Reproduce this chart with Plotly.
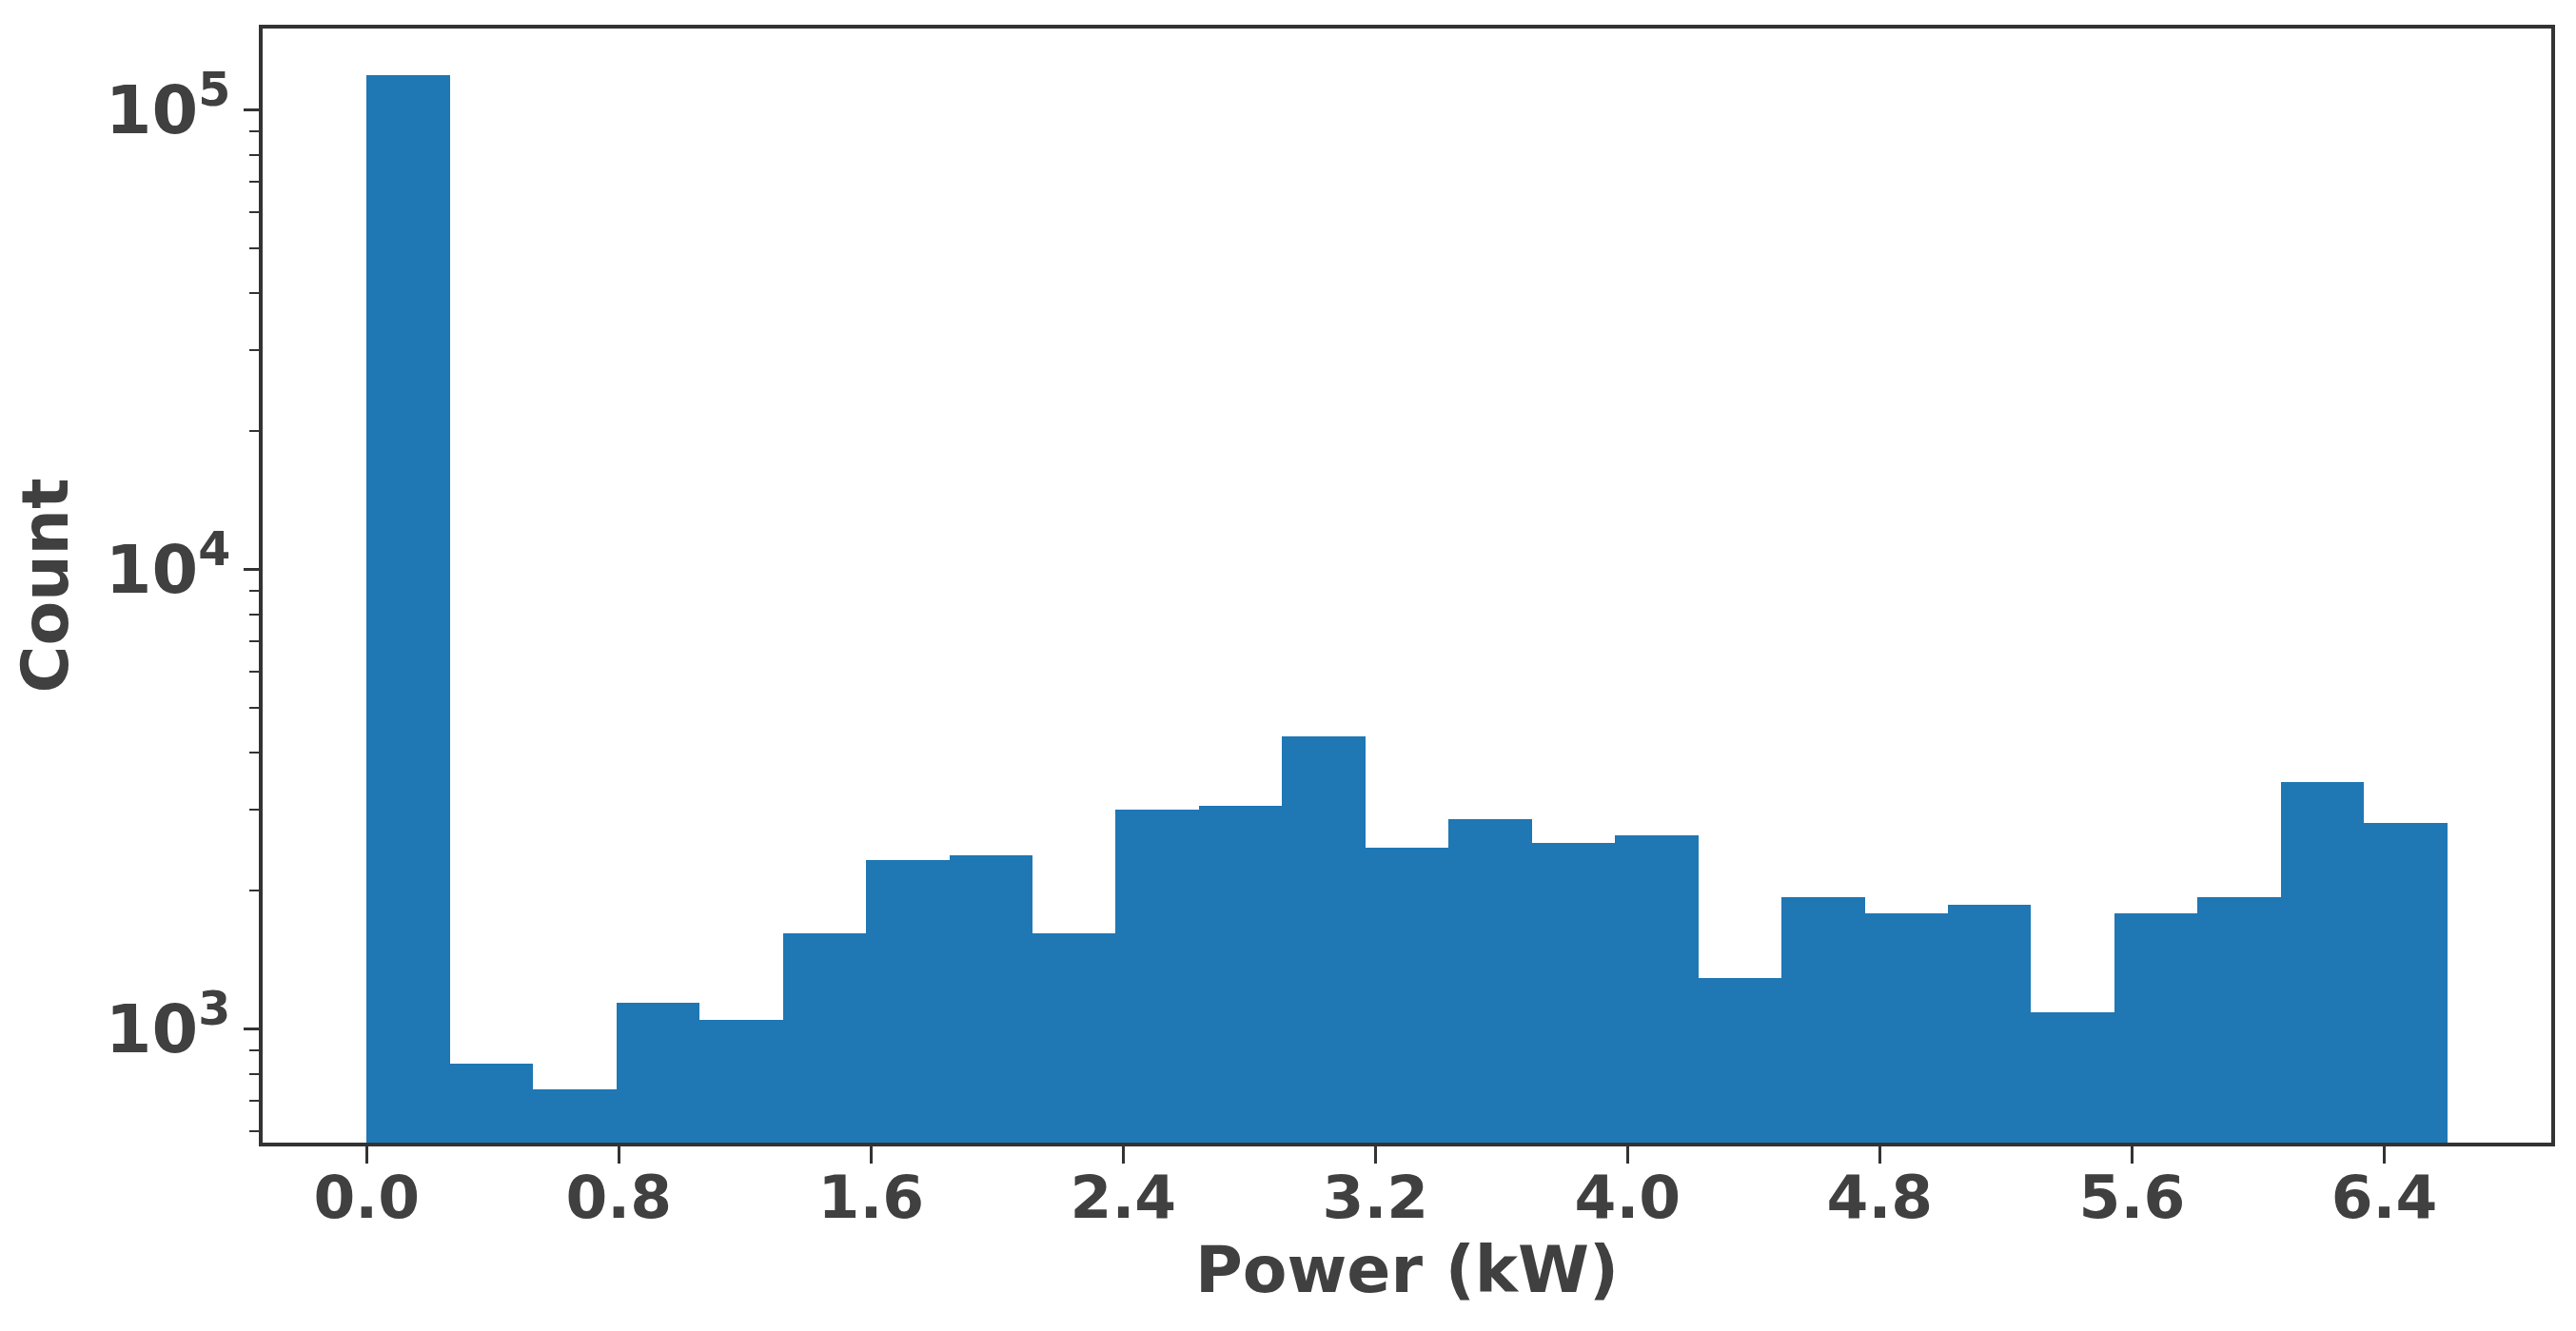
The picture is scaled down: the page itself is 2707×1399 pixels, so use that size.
import numpy as np
import plotly.graph_objects as go

# histogram of power readings, 25 equal bins from 0 to 6.6 kW
power_min = 0.0
power_max = 6.6
n_bins = 25
counts = [119000, 840, 740, 1140, 1050, 1620, 2340, 2390, 1620, 3000,
          3060, 4340, 2490, 2870, 2540, 2640, 1290, 1940, 1790, 1870,
          1090, 1790, 1940, 3460, 2810]

x_ticks = [0.0, 0.8, 1.6, 2.4, 3.2, 4.0, 4.8, 5.6, 6.4]
y_ticks = [1e3, 1e4, 1e5]
y_tick_text = ["10<sup>3</sup>", "10<sup>4</sup>", "10<sup>5</sup>"]
y_minor = [m * 10 ** k for k in (2, 3, 4) for m in range(2, 10)]

edges = np.linspace(power_min, power_max, n_bins + 1)
centers = (edges[:-1] + edges[1:]) / 2
width = edges[1] - edges[0]

TEXT = "#404040"
LINE = "#333333"
TITLE_FONT = dict(family="DejaVu Sans", size=68, color=TEXT, weight="bold")
XTICK_FONT = dict(family="DejaVu Sans", size=63, color=TEXT, weight="bold")
YTICK_FONT = dict(family="DejaVu Sans", size=70, color=TEXT, weight="bold")

fig = go.Figure()
fig.add_trace(go.Bar(
    x=centers,
    y=counts,
    width=width,
    marker=dict(color="#1f77b4", line=dict(width=0)),
    showlegend=False,
))

# the page body adds an 8px margin, so the figure is kept 8px smaller
pad = 0.05 * (power_max - power_min)
fig.update_layout(
    width=2699,
    height=1391,
    margin=dict(l=268, r=26, t=22, b=198),
    paper_bgcolor="white",
    plot_bgcolor="white",
    bargap=0,
    font=TITLE_FONT,
    xaxis=dict(
        range=[power_min - pad, power_max + pad],
        tickvals=x_ticks,
        ticktext=[f"{v:.1f}" for v in x_ticks],
        ticks="outside", ticklen=18, tickwidth=3, tickcolor=LINE,
        ticklabelstandoff=-18,
        showline=True, linecolor=LINE, linewidth=3.5, mirror=True,
        showgrid=False, zeroline=False,
        tickfont=XTICK_FONT,
        title=dict(text="Power (kW)", font=TITLE_FONT, standoff=12),
    ),
    yaxis=dict(
        type="log",
        range=[2.7534, 5.1778],
        tickmode="array",
        tickvals=y_ticks,
        ticktext=y_tick_text,
        ticks="outside", ticklen=16, tickwidth=3, tickcolor=LINE,
        minor=dict(tickmode="array", tickvals=y_minor, ticks="outside",
                   ticklen=10, tickwidth=2, tickcolor=LINE, showgrid=False),
        showline=True, linecolor=LINE, linewidth=3.5, mirror=True,
        showgrid=False, zeroline=False,
        tickfont=YTICK_FONT,
        title=dict(text="Count", font=TITLE_FONT, standoff=20),
    ),
)

fig.write_html("out.html")
